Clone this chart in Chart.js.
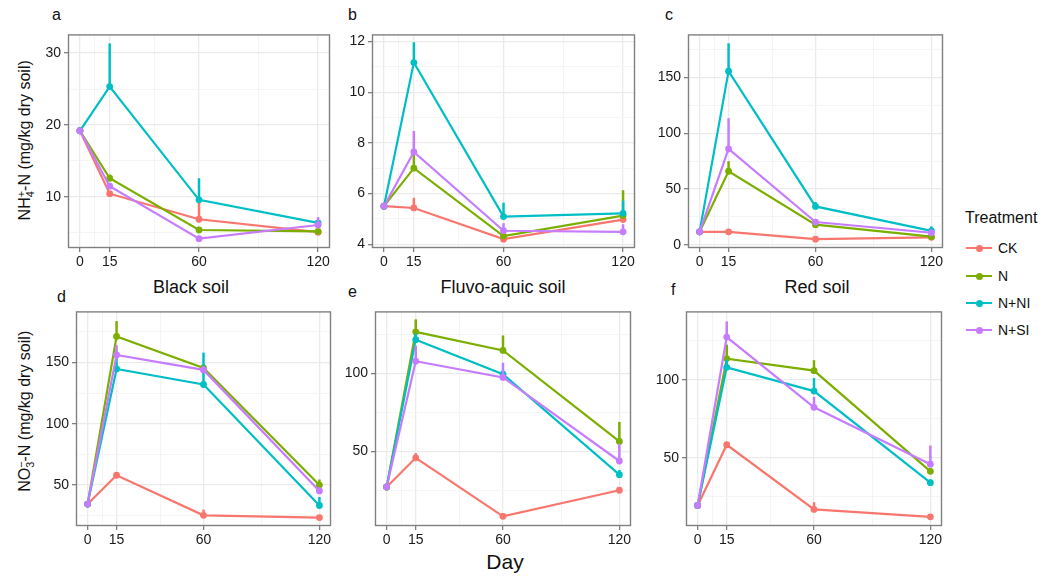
<!DOCTYPE html>
<html>
<head>
<meta charset="utf-8">
<script src="https://cdn.jsdelivr.net/npm/chart.js@4.4.0/dist/chart.umd.min.js"></script>
<style>
body { margin:0; background:#fff; font-family:"Liberation Sans", Arial, sans-serif; }
#wrap { position:relative; width:1045px; height:582px; overflow:hidden; background:#fff; }
canvas { position:absolute; }
.txt { position:absolute; white-space:nowrap; color:#111; line-height:1; }
.ytitle { position:absolute; width:300px; text-align:center; font-size:16px; line-height:20px; color:#111; transform:rotate(-90deg); transform-origin:50% 50%; white-space:nowrap; }
.ss { display:inline-block; vertical-align:-0.4em; font-size:0.68em; line-height:0.85em; text-align:left; }
.ss span { display:block; }
.key { position:absolute; height:2px; width:26px; }
.dot { position:absolute; width:7px; height:7px; border-radius:50%; }
</style>
</head>
<body>
<div id="wrap">
  <div class="txt" style="left:52px;top:7px;font-size:16px">a</div>
  <div class="txt" style="left:348px;top:7px;font-size:16px">b</div>
  <div class="txt" style="left:665px;top:7px;font-size:16px">c</div>
  <div class="txt" style="left:57px;top:289px;font-size:16px">d</div>
  <div class="txt" style="left:348px;top:284px;font-size:16px">e</div>
  <div class="txt" style="left:671px;top:282px;font-size:16px">f</div>

  <div class="txt" style="left:91px;top:278px;width:200px;text-align:center;font-size:18px">Black soil</div>
  <div class="txt" style="left:403px;top:278px;width:200px;text-align:center;font-size:18px">Fluvo-aquic soil</div>
  <div class="txt" style="left:717px;top:278px;width:200px;text-align:center;font-size:18px">Red soil</div>
  <div class="txt" style="left:405px;top:551px;width:200px;text-align:center;font-size:21px">Day</div>

  <div class="ytitle" style="left:-125px;top:130px">NH<span class="ss"><span>+</span><span>4</span></span>-N (mg/kg dry soil)</div>
  <div class="ytitle" style="left:-125px;top:401px">NO<span class="ss"><span>&minus;</span><span>3</span></span>-N (mg/kg dry soil)</div>

  <div class="txt" style="left:965px;top:210px;font-size:16px">Treatment</div>
  <div id="legend"></div>
</div>
<script>
var days = [0, 15, 60, 120];
var dayMinor = [7.5, 37.5, 90];
var treatments = ["CK", "N", "N+NI", "N+SI"];
var colors = ["#F8766D", "#7CAE00", "#00BFC4", "#C77CFF"];

// rows: CK, N, N+NI, N+SI  /  columns: day 0, 15, 60, 120
var nh4Black = [
	[19.2, 10.45, 6.9, 5.1],
	[19.2, 12.6, 5.4, 5.2],
	[19.2, 25.35, 9.6, 6.4],
	[19.2, 11.5, 4.2, 6.1]
];
var nh4BlackErr = [
	[0.2, 0.3, 2.5, 0.2],
	[0.2, 0.5, 0.3, 0.2],
	[0.2, 6.0, 3.0, 0.4],
	[0.2, 0.4, 0.2, 1.1]
];
var nh4Fluvo = [
	[5.5, 5.43, 4.2, 4.97],
	[5.5, 7.0, 4.32, 5.13],
	[5.5, 11.17, 5.09, 5.22],
	[5.5, 7.64, 4.53, 4.49]
];
var nh4FluvoErr = [
	[0.05, 0.4, 0.1, 0.1],
	[0.05, 0.57, 0.15, 1.0],
	[0.05, 0.8, 0.55, 0.5],
	[0.05, 0.83, 0.3, 0.3]
];
var nh4Red = [
	[11.6, 11.6, 5, 6.7],
	[11.6, 66, 18, 7.3],
	[11.6, 155.8, 34.4, 12.5],
	[11.6, 86, 20.4, 10.8]
];
var nh4RedErr = [
	[0.5, 2, 1, 1],
	[0.5, 9, 2, 1],
	[0.5, 25, 4, 4],
	[0.5, 27.6, 2, 2]
];
var no3Black = [
	[34.5, 58, 25.3, 23.5],
	[34.5, 171.2, 145.5, 50],
	[34.5, 144.7, 132, 33.3],
	[34.5, 156.1, 143.9, 45.2]
];
var no3BlackErr = [
	[1, 1.5, 4.7, 1],
	[1, 12.5, 2, 4.5],
	[1, 15, 26, 7],
	[1, 8, 3, 3]
];
var no3Fluvo = [
	[27.1, 45.8, 8.3, 25],
	[27.1, 126.5, 114.6, 56.3],
	[27.1, 121.5, 99.4, 35],
	[27.1, 107.7, 97.3, 43.75]
];
var no3FluvoErr = [
	[1, 3, 2, 1],
	[1, 8, 9.6, 12.5],
	[1, 4, 3, 3],
	[1, 10, 9.4, 11]
];
var no3Red = [
	[19.4, 58.3, 16.9, 12.1],
	[19.4, 113.5, 105.8, 41.25],
	[19.4, 107.9, 92.7, 34],
	[19.4, 127.3, 82.3, 45.8]
];
var no3RedErr = [
	[1, 1.5, 4.6, 1],
	[1, 9, 6.7, 2],
	[1, 5, 8.3, 2],
	[1, 10, 6.7, 12]
];

// y tick labels (major) and minor grid values
var nh4BlackTicks = [10, 20, 30], nh4BlackMinor = [5, 15, 25];
var nh4FluvoTicks = [4, 6, 8, 10, 12], nh4FluvoMinor = [5, 7, 9, 11];
var nh4RedTicks = [0, 50, 100, 150], nh4RedMinor = [25, 75, 125, 175];
var no3BlackTicks = [50, 100, 150], no3BlackMinor = [25, 75, 125, 175];
var no3FluvoTicks = [50, 100], no3FluvoMinor = [25, 75, 125];
var no3RedTicks = [50, 100], no3RedMinor = [25, 75, 125];

var panels = [
	{ data: nh4Black, err: nh4BlackErr, ticks: nh4BlackTicks, minor: nh4BlackMinor, ymin: 2.9, ymax: 32.6, box: [68, 29, 330, 248] },
	{ data: nh4Fluvo, err: nh4FluvoErr, ticks: nh4FluvoTicks, minor: nh4FluvoMinor, ymin: 3.85, ymax: 12.28, box: [372, 29, 635, 248] },
	{ data: nh4Red, err: nh4RedErr, ticks: nh4RedTicks, minor: nh4RedMinor, ymin: -2.9, ymax: 188.8, box: [688, 29, 943, 248] },
	{ data: no3Black, err: no3BlackErr, ticks: no3BlackTicks, minor: no3BlackMinor, ymin: 16.6, ymax: 191.6, box: [76, 306, 331, 526] },
	{ data: no3Fluvo, err: no3FluvoErr, ticks: no3FluvoTicks, minor: no3FluvoMinor, ymin: 2.1, ymax: 139.6, box: [375, 306, 631, 526] },
	{ data: no3Red, err: no3RedErr, ticks: no3RedTicks, minor: no3RedMinor, ymin: 6.25, ymax: 143.75, box: [686, 306, 942, 526] }
];

// upward error bars after each line, and the panel frame
var panelExtras = {
	id: "panelExtras",
	afterDatasetDraw: function(chart, args) {
		var ds = chart.data.datasets[args.index];
		var c = chart.ctx, xs = chart.scales.x, ys = chart.scales.y;
		c.save();
		c.strokeStyle = ds.borderColor;
		c.lineWidth = 2.5;
		ds.data.forEach(function(pt, j) {
			var x = xs.getPixelForValue(pt.x);
			c.beginPath();
			c.moveTo(x, ys.getPixelForValue(pt.y));
			c.lineTo(x, ys.getPixelForValue(pt.y + ds.err[j]));
			c.stroke();
		});
		c.restore();
	},
	afterDraw: function(chart) {
		var a = chart.chartArea, c = chart.ctx;
		c.save();
		c.strokeStyle = "#808080";
		c.lineWidth = 1.4;
		c.strokeRect(a.left + 0.5, a.top + 0.5, a.right - a.left - 1, a.bottom - a.top - 1);
		c.restore();
	}
};

function tickList(major, minor) {
	return major.concat(minor).sort(function(p, q) { return p - q; }).map(function(v) { return { value: v }; });
}

function makeChart(p) {
	var W = 50, PT = 6, PR = 6, H = 30;
	var bw = p.box[2] - p.box[0], bh = p.box[3] - p.box[1];
	var cv = document.createElement("canvas");
	cv.width = bw + W + PR;
	cv.height = bh + PT + H;
	cv.style.left = (p.box[0] - W) + "px";
	cv.style.top = (p.box[1] - PT) + "px";
	document.getElementById("wrap").appendChild(cv);

	var sets = treatments.map(function(t, i) {
		return {
			label: t,
			data: days.map(function(d, j) { return { x: d, y: p.data[i][j] }; }),
			err: p.err[i],
			borderColor: colors[i],
			backgroundColor: colors[i],
			borderWidth: 2.2,
			pointRadius: 3.4,
			pointBorderWidth: 0,
			pointHoverRadius: 3.4,
			tension: 0,
			order: 3 - i
		};
	});

	var gridOpts = function(major) {
		return {
			color: function(ctx) { return major.indexOf(ctx.tick.value) >= 0 ? "#EBEBEB" : "#F3F3F3"; },
			lineWidth: function(ctx) { return major.indexOf(ctx.tick.value) >= 0 ? 1.3 : 0.8; },
			tickColor: function(ctx) { return major.indexOf(ctx.tick.value) >= 0 ? "#808080" : "rgba(0,0,0,0)"; },
			tickLength: 4,
			drawTicks: true
		};
	};
	var tickFont = { size: 14, family: "Liberation Sans" };

	new Chart(cv, {
		type: "line",
		data: { datasets: sets },
		options: {
			responsive: false,
			animation: false,
			devicePixelRatio: 1,
			layout: { padding: { top: PT, right: PR, left: 0, bottom: 0 } },
			plugins: { legend: { display: false }, tooltip: { enabled: false } },
			scales: {
				x: {
					type: "linear", min: -6, max: 126, bounds: "data",
					afterBuildTicks: function(s) { s.ticks = tickList(days, dayMinor); },
					afterFit: function(s) { s.height = H; },
					grid: gridOpts(days),
					border: { display: false },
					ticks: {
						autoSkip: false, maxRotation: 0, padding: 2, color: "#1a1a1a", font: tickFont,
						callback: function(v) { return days.indexOf(v) >= 0 ? String(v) : ""; }
					}
				},
				y: {
					type: "linear", min: p.ymin, max: p.ymax, bounds: "data",
					afterBuildTicks: function(s) { s.ticks = tickList(p.ticks, p.minor); },
					afterFit: function(s) { s.width = W; },
					grid: gridOpts(p.ticks),
					border: { display: false },
					ticks: {
						autoSkip: false, padding: 3, color: "#1a1a1a", font: tickFont,
						callback: function(v) { return p.ticks.indexOf(v) >= 0 ? String(v) : ""; }
					}
				}
			}
		},
		plugins: [panelExtras]
	});
}

panels.forEach(makeChart);

// legend
var lg = document.getElementById("legend");
var legendY = [248, 276, 303, 330];
treatments.forEach(function(t, i) {
	var cy = legendY[i];
	var k = document.createElement("div");
	k.className = "key";
	k.style.left = "966px"; k.style.top = (cy - 1) + "px"; k.style.background = colors[i];
	var d = document.createElement("div");
	d.className = "dot";
	d.style.left = "975.5px"; d.style.top = (cy - 3.5) + "px"; d.style.background = colors[i];
	var l = document.createElement("div");
	l.className = "txt";
	l.style.left = "998px"; l.style.top = (cy - 7) + "px"; l.style.fontSize = "14px";
	l.textContent = t;
	lg.appendChild(k); lg.appendChild(d); lg.appendChild(l);
});
</script>
</body>
</html>
